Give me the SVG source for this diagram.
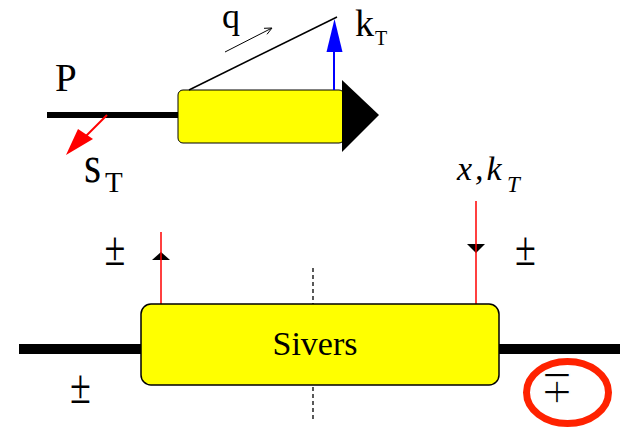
<svg xmlns="http://www.w3.org/2000/svg" width="625" height="428" viewBox="0 0 625 428">
  <style>
    text { font-family: "Liberation Serif", "Times New Roman", "Nimbus Roman", "DejaVu Serif", serif; fill: #000; }
    .ti { font-style: italic; }
    .box { fill: #ffff00; stroke: #000; }
    .red { stroke: #ff0000; stroke-width: 1.5; fill: none; }
    .pm { font-size: 38px; text-anchor: middle; }
  </style>
  <rect width="625" height="428" fill="#ffffff"/>

  <!-- Top diagram -->
  <g id="proton">
    <line x1="47" y1="115" x2="180" y2="115" stroke="#000" stroke-width="6"/>
    <text x="55" y="91" font-size="39" font-family="Liberation Serif, serif">P</text>
  </g>
  <g id="quark-box">
    <rect class="box" x="178" y="90" width="166" height="53" rx="5" stroke-width="1"/>
    <polygon points="342,80 379,115 342,152" fill="#000"/>
  </g>
  <g id="labels-top">
    <text x="222" y="28" font-size="36" font-family="Liberation Serif, serif">q</text>
    <text x="355" y="36" font-size="38" font-family="Liberation Serif, serif">k</text>
    <text x="375" y="45" font-size="20" font-family="Liberation Serif, serif">T</text>
    <text transform="translate(84,182) scale(1.1,1.3)" font-size="40" font-family="Liberation Serif, serif">s</text>
    <text x="105" y="192" font-size="29" font-family="Liberation Serif, serif">T</text>
  </g>

  <g id="connectors">
    <line x1="189" y1="90" x2="337" y2="17" stroke="#000" stroke-width="1.5"/>
    <line x1="225" y1="52" x2="271" y2="28.5" stroke="#000" stroke-width="1"/>
    <polyline points="264,28.3 272,28 267,34.3" fill="none" stroke="#000" stroke-width="1"/>
    <line x1="334" y1="90" x2="334" y2="48" stroke="#0000ff" stroke-width="2"/>
    <polygon points="334.5,19 326.5,52 342.5,52" fill="#0000ff"/>
    <line x1="107" y1="115" x2="82" y2="140" stroke="#ff0000" stroke-width="2"/>
    <polygon points="66,155 78,129 93,139" fill="#ff0000"/>

    <line x1="19" y1="349" x2="142" y2="349" stroke="#000" stroke-width="10"/>
    <line x1="498" y1="349" x2="620" y2="349" stroke="#000" stroke-width="10"/>
    <line x1="313" y1="268" x2="313" y2="422" stroke="#000" stroke-width="1.3" stroke-dasharray="4 3"/>
    <polygon points="161,252 152,260 170,260" fill="#000"/>
    <line class="red" x1="161" y1="232" x2="161" y2="304"/>
    <polygon points="467,244 485,244 476,253" fill="#000"/>
    <line class="red" x1="476" y1="201" x2="476" y2="304"/>
  </g>

  <g id="sivers">
    <rect class="box" x="141" y="304" width="358" height="81" rx="10" stroke-width="1.5"/>
    <text x="315" y="355" font-size="34" text-anchor="middle" font-family="Liberation Serif, serif">Sivers</text>
  </g>
  <g id="labels-bottom">
    <text class="ti" x="457" y="180" font-size="34" letter-spacing="3" font-family="Liberation Serif, serif">x,k</text>
    <text class="ti" x="507" y="192" font-size="23" font-family="Liberation Serif, serif">T</text>
    <text class="pm" transform="translate(115,265) scale(1,1.3)">±</text>
    <text class="pm" transform="translate(80.5,403) scale(1,1.3)">±</text>
    <text class="pm" transform="translate(525.5,265) scale(1,1.3)">±</text>
    <text class="pm" transform="translate(557,403) scale(1.05,1.25)" font-size="30" stroke="#ffffff" stroke-width="1.2">∓</text>
  </g>
  <g id="highlight">
    <ellipse cx="567.5" cy="392.5" rx="41" ry="31" fill="none" stroke="#ff2200" stroke-width="7"/>
  </g>
</svg>
